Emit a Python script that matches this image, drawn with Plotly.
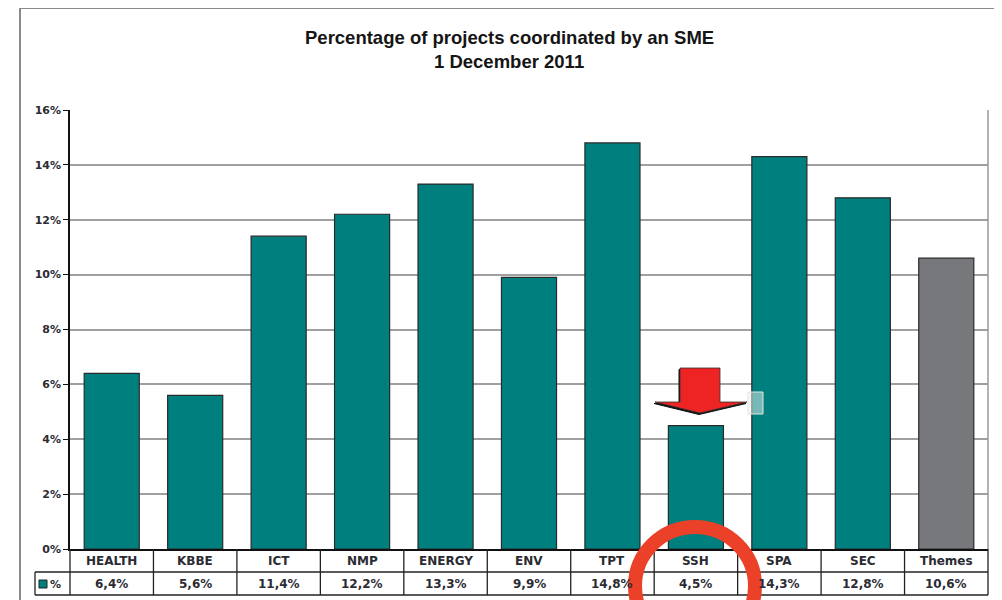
import plotly.graph_objects as go

# ---- data ----
categories = ["HEALTH", "KBBE", "ICT", "NMP", "ENERGY", "ENV", "TPT", "SSH", "SPA", "SEC", "Themes"]
values = [6.4, 5.6, 11.4, 12.2, 13.3, 9.9, 14.8, 4.5, 14.3, 12.8, 10.6]
bar_colors = ["#007f7f"] * 10 + ["#77787b"]
y_ticks = [0, 2, 4, 6, 8, 10, 12, 14, 16]
title_lines = ["Percentage of projects coordinated by an SME", "1 December 2011"]
series_name = "%"

OFF = 8  # browser body margin
W, H = 1002 - OFF, 600 - OFF
ML, MR, MT, MB = 70 - OFF, 14, 110 - OFF, 51
PW, PH = W - ML - MR, H - MT - MB

TXT_FONT = "DejaVu Sans"
TXT_COL = "#2b2b33"


def px(x):
    return (x - OFF - ML) / PW


def py(y):
    return (H + OFF - MB - y) / PH


fig = go.Figure()
fig.add_trace(go.Bar(
    x=categories, y=values,
    marker=dict(color=bar_colors, line=dict(color="#2a2a2a", width=1.2)),
    showlegend=False, hoverinfo="skip",
))

shapes = []
annotations = []
n = len(categories)
line_col = "#222222"

# outer frame
shapes.append(dict(type="rect", xref="paper", yref="paper", x0=px(20), x1=px(998), y0=py(640), y1=py(8),
                   line=dict(color="#8a8a8a", width=2), layer="below"))
# right border of plot area
shapes.append(dict(type="line", xref="paper", yref="paper", x0=1, x1=1, y0=0, y1=1,
                   line=dict(color="#9a9a9a", width=1.5)))

# data table
r1, r2, r3 = 549, 572, 595
for i in range(n + 1):
    xp = i / n
    shapes.append(dict(type="line", xref="paper", yref="paper", x0=xp, x1=xp, y0=py(r1), y1=py(r3),
                       line=dict(color=line_col, width=1.3)))
shapes.append(dict(type="line", xref="paper", yref="paper", x0=px(35), x1=1, y0=py(r2), y1=py(r2),
                   line=dict(color=line_col, width=1.3)))
shapes.append(dict(type="line", xref="paper", yref="paper", x0=px(35), x1=1, y0=py(r3), y1=py(r3),
                   line=dict(color=line_col, width=1.3)))
shapes.append(dict(type="line", xref="paper", yref="paper", x0=px(35), x1=px(35), y0=py(r2), y1=py(r3),
                   line=dict(color=line_col, width=1.3)))
# legend key
shapes.append(dict(type="rect", xref="paper", yref="paper", x0=px(39), x1=px(47), y0=py(588), y1=py(580),
                   fillcolor=bar_colors[0], line=dict(color="#222", width=1)))
annotations.append(dict(x=px(48), y=py(584), xref="paper", yref="paper", text=f"<b>{series_name}</b>",
                        showarrow=False, xanchor="left", yanchor="middle",
                        font=dict(size=11, color=TXT_COL, family=TXT_FONT)))

for c, v in zip(categories, values):
    annotations.append(dict(x=c, xref="x", y=py((r1 + r2) / 2), yref="paper", text=f"<b>{c}</b>",
                            showarrow=False, yanchor="middle", font=dict(size=12, color=TXT_COL, family=TXT_FONT)))
    label = f"{v:.1f}".replace(".", ",") + series_name
    annotations.append(dict(x=c, xref="x", y=py((r2 + r3) / 2), yref="paper", text=f"<b>{label}</b>",
                            showarrow=False, yanchor="middle", font=dict(size=12, color=TXT_COL, family=TXT_FONT)))

# title
annotations.append(dict(x=px(509), y=py(37), xref="paper", yref="paper", text=f"<b>{title_lines[0]}</b>",
                        showarrow=False, yanchor="middle", font=dict(size=18.5, color="#151515", family="Arial")))
annotations.append(dict(x=px(509), y=py(61), xref="paper", yref="paper", text=f"<b>{title_lines[1]}</b>",
                        showarrow=False, yanchor="middle", font=dict(size=18.5, color="#151515", family="Arial")))

# faint selection box next to arrow
shapes.append(dict(type="rect", xref="paper", yref="paper", x0=px(748), x1=px(763), y0=py(414), y1=py(392),
                   line=dict(color="#e2e5e0", width=1), fillcolor="rgba(240,242,238,0.5)"))

# red arrow (shadow + arrow)
def arrow_path(dx=0, dy=0):
    pts = [(680, 368), (720, 368), (720, 402), (747, 402), (700, 413), (655, 402), (680, 402)]
    return "M " + " L ".join(f"{px(x + dx)},{py(y + dy)}" for x, y in pts) + " Z"

shapes.append(dict(type="path", xref="paper", yref="paper", path=arrow_path(-1, 1.5),
                   fillcolor="#111", line=dict(color="#111", width=1)))
shapes.append(dict(type="path", xref="paper", yref="paper", path=arrow_path(),
                   fillcolor="#ee2424", line=dict(color="#333", width=0.8)))

# red circle
shapes.append(dict(type="circle", xref="paper", yref="paper", x0=px(635), x1=px(755), y0=py(645), y1=py(527),
                   line=dict(color="#ea4128", width=14)))

fig.update_layout(
    width=W, height=H,
    margin=dict(l=ML, r=MR, t=MT, b=MB),
    paper_bgcolor="white", plot_bgcolor="white",
    bargap=0.34,
    shapes=shapes, annotations=annotations,
    xaxis=dict(showticklabels=False, ticks="", showgrid=False, showline=True, linecolor="#111", linewidth=1.5,
               range=[-0.5, n - 0.5], fixedrange=True),
    yaxis=dict(range=[0, 16], tickmode="array", tickvals=y_ticks,
               ticktext=[f"<b>{t}%</b>" for t in y_ticks],
               showgrid=True, gridcolor="#a0a0a0", gridwidth=1.5,
               showline=True, linecolor="#111", linewidth=1.5, ticks="outside", ticklen=5, tickcolor="#111",
               tickfont=dict(size=11, color=TXT_COL, family=TXT_FONT), zeroline=False),
    font=dict(family="Arial"),
)

fig.write_html("out.html")
